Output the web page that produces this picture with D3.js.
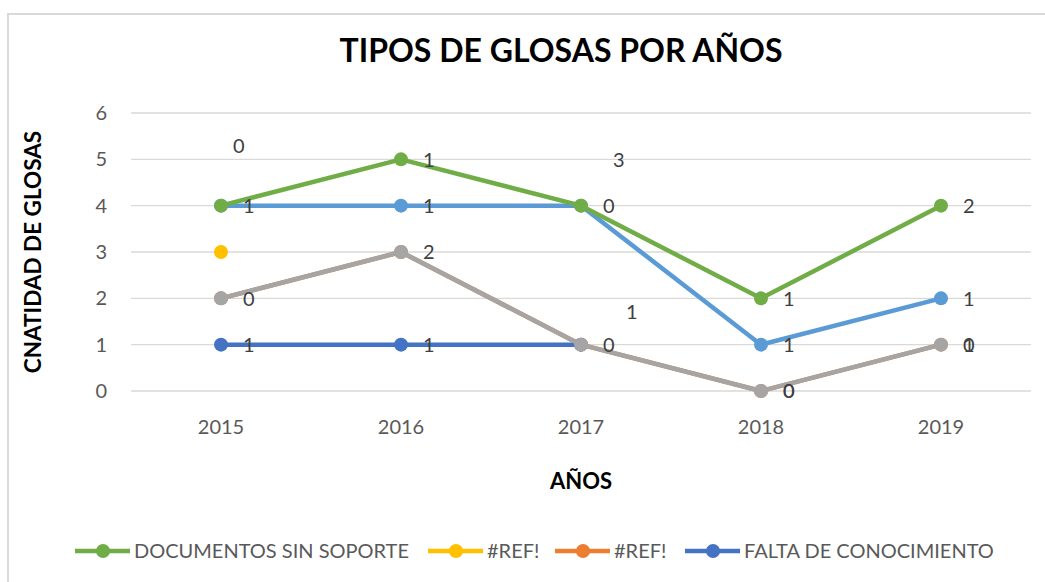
<!DOCTYPE html>
<html>
<head>
<meta charset="utf-8">
<script src="https://cdn.jsdelivr.net/npm/d3@7"></script>
<style>
  body { margin: 0; background: #fff; }
  svg text { font-family: Lato, "Open Sans", sans-serif; }
</style>
</head>
<body>
<script>
// ---- data ----
var years = ["2015", "2016", "2017", "2018", "2019"];
var yTicks = [0, 1, 2, 3, 4, 5, 6];

var docsValues = [4, 5, 4, 2, 4];
var docsLabels = ["1", "1", "0", "1", "2"];
var ref1Values = [3, null, null, null, null];
var ref2Values = [2, 3, 1, 0, 1];
var ref2Labels = [null, null, null, "0", "1"];
var faltaValues = [1, 1, 1, null, null];
var faltaLabels = ["1", "1", null, null, null];
var blueValues = [4, 4, 4, 1, 2];
var blueLabels = [null, "1", null, "1", "1"];
var grayValues = [2, 3, 1, 0, 1];
var grayLabels = ["0", "2", "0", "0", "0"];

// stray labels with no marker
var floatYears = ["2015", "2017", "2017"];
var floatValues = [5.3, 5.0, 1.7];
var floatTexts = ["0", "3", "1"];

var legendNames = ["DOCUMENTOS SIN SOPORTE", "#REF!", "#REF!", "FALTA DE CONOCIMIENTO"];
var legendColors = ["#70AD47", "#FFC000", "#ED7D31", "#4472C4"];

// ---- setup ----
var W = 1045, H = 582;
var svg = d3.select("body").append("svg").attr("width", W).attr("height", H);

// outer frame (cut off on the right/bottom)
svg.append("rect").attr("x", 8).attr("y", 14).attr("width", W + 10).attr("height", H + 10)
    .attr("fill", "#fff").attr("stroke", "#D9D9D9").attr("stroke-width", 2);

var x = d3.scaleBand().domain(years).range([131, 1031]);
var y = d3.scaleLinear().domain([0, 6]).range([391, 113]);
function cx(yr) { return x(yr) + x.bandwidth() / 2; }

// gridlines
svg.append("g").selectAll("line").data(yTicks).enter().append("line")
    .attr("x1", 131).attr("x2", 1031)
    .attr("y1", function (d) { return y(d); }).attr("y2", function (d) { return y(d); })
    .attr("stroke", "#D9D9D9").attr("stroke-width", 1.3);

// y axis labels
var yAxis = d3.axisLeft(y).tickValues(yTicks).tickFormat(d3.format("d")).tickSize(0).tickPadding(0);
var gy = svg.append("g").attr("transform", "translate(107,0)").call(yAxis);
gy.select(".domain").remove();
gy.selectAll("text").attr("font-size", 20).attr("fill", "#595959").style("font-family", "Lato, sans-serif");

// x axis labels
var xAxis = d3.axisBottom(x).tickSize(0).tickPadding(0);
var gx = svg.append("g").attr("transform", "translate(0,420)").call(xAxis);
gx.select(".domain").remove();
gx.selectAll("text").attr("font-size", 20).attr("fill", "#595959").style("font-family", "Lato, sans-serif");

// titles
svg.append("text").attr("x", 561).attr("y", 62).attr("text-anchor", "middle")
    .attr("font-size", 32).attr("font-weight", "bold").attr("fill", "#000")
    .text("TIPOS DE GLOSAS POR AÑOS");
svg.append("text").attr("transform", "translate(41,252) rotate(-90)").attr("text-anchor", "middle")
    .attr("font-size", 22.5).attr("font-weight", "bold").attr("fill", "#000")
    .text("CNATIDAD DE GLOSAS");
svg.append("text").attr("x", 581).attr("y", 489).attr("text-anchor", "middle")
    .attr("font-size", 22).attr("font-weight", "bold").attr("fill", "#000")
    .text("AÑOS");

// ---- series ----
var line = d3.line()
    .defined(function (d) { return d != null; })
    .x(function (d, i) { return cx(years[i]); })
    .y(function (d) { return y(d); });

function drawSeries(values, color) {
    var g = svg.append("g");
    g.append("path").attr("d", line(values)).attr("fill", "none")
        .attr("stroke", color).attr("stroke-width", 4.5).attr("stroke-linejoin", "round");
    values.forEach(function (v, i) {
        if (v == null) return;
        g.append("circle").attr("cx", cx(years[i])).attr("cy", y(v)).attr("r", 7).attr("fill", color);
    });
}

function drawLabels(values, labels) {
    values.forEach(function (v, i) {
        if (v == null || labels[i] == null) return;
        svg.append("text").attr("x", cx(years[i]) + 22).attr("y", y(v)).attr("dy", "0.36em")
            .attr("font-size", 20).attr("fill", "#404040").text(labels[i]);
    });
}

drawSeries(ref2Values, "#ED7D31");
drawSeries(faltaValues, "#4472C4");
drawSeries(blueValues, "#5B9BD5");
drawSeries(grayValues, "#A5A5A5");
drawSeries(ref1Values, "#FFC000");
drawSeries(docsValues, "#70AD47");

drawLabels(ref2Values, ref2Labels);
drawLabels(faltaValues, faltaLabels);
drawLabels(blueValues, blueLabels);
drawLabels(grayValues, grayLabels);
drawLabels(docsValues, docsLabels);

var floatDx = [12, 32, 45];
floatTexts.forEach(function (t, i) {
    svg.append("text").attr("x", cx(floatYears[i]) + floatDx[i]).attr("y", y(floatValues[i])).attr("dy", "0.36em")
        .attr("font-size", 20).attr("fill", "#404040").text(t);
});

// ---- legend ----
var legX = [75, 428, 555, 685];
var legend = svg.append("g");
legendNames.forEach(function (name, i) {
    var gx0 = legX[i];
    legend.append("line").attr("x1", gx0).attr("x2", gx0 + 55).attr("y1", 551).attr("y2", 551)
        .attr("stroke", legendColors[i]).attr("stroke-width", 4.5);
    legend.append("circle").attr("cx", gx0 + 28).attr("cy", 551).attr("r", 7).attr("fill", legendColors[i]);
    legend.append("text").attr("x", gx0 + 59).attr("y", 551).attr("dy", "0.36em")
        .attr("font-size", 20).attr("fill", "#595959").text(name);
});
</script>
</body>
</html>
